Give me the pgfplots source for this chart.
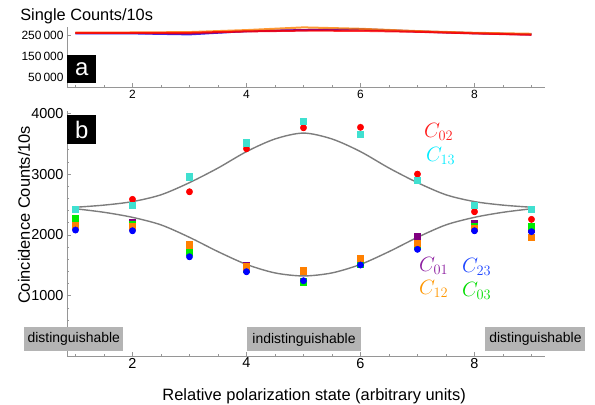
\documentclass[border=0pt]{standalone}
\usepackage{fontspec}
\setmainfont{Liberation Sans}
\usepackage{pgfplots}
\pgfplotsset{compat=1.18}
\definecolor{axgray}{RGB}{150,150,150}
\definecolor{turq}{RGB}{64,224,208}
\definecolor{morange}{RGB}{255,128,0}
\definecolor{mpurple}{RGB}{128,0,128}
\definecolor{mgreen}{RGB}{0,235,0}
\definecolor{mblue}{RGB}{0,0,255}
\definecolor{mred}{RGB}{255,0,0}
\definecolor{fitgray}{RGB}{125,125,125}
\definecolor{boxgray}{RGB}{180,180,180}
\definecolor{lcyan}{RGB}{0,235,255}
\definecolor{lpurple}{RGB}{140,30,160}
\definecolor{lblue}{RGB}{30,70,255}
\definecolor{lorange}{RGB}{255,150,0}
\definecolor{lgreen}{RGB}{0,220,0}
\definecolor{lred}{RGB}{255,30,30}

\pgfplotsset{
  myax/.style={
    scale only axis, width=478bp,
    xmin=0.851, xmax=9.237,
    axis x line*=bottom, axis y line*=left,
    axis line style={axgray, line width=0.8bp, -},
    every tick/.style={axgray, line width=0.6bp},
    tick align=inside,
    major tick length=4bp, minor tick length=2.5bp,
    xtick={2,4,6,8},
    minor xtick={1,1.5,...,9},
    /pgf/number format/assume math mode=true,
    clip=false,
  },
  pts/.style={only marks, mark=#1, mark size=3.2bp,
    error bars/.cd, y dir=both, y fixed=40,
    error bar style={line width=0.6bp},
    error mark options={rotate=90, mark size=1.8bp, line width=0.6bp}},
}

\begin{document}
\begin{tikzpicture}
\path[use as bounding box] (-67bp,-48.5bp) rectangle (528bp,356.5bp);

% ---------- panel b ----------
\begin{axis}[myax,
  at={(0,0)}, anchor=south west,
  height=245bp,
  ymin=0, ymax=4030,
  ytick={1000,2000,3000,4000},
  yticklabels={1000,2000,3000,4000},
  minor ytick={200,400,...,4000},
  ticklabel style={font=\fontsize{14.5}{16}\selectfont},
  xticklabel style={yshift=2bp},
  ylabel={Coincidence Counts/10s},
  ylabel style={at={(axis description cs:-0.09,0.578)}, anchor=center, font=\fontsize{16.5}{18}\selectfont},
  xlabel={Relative polarization state (arbitrary units)},
  xlabel style={at={(axis description cs:0.517,-0.1776)}, anchor=base, font=\fontsize{16.5}{18}\selectfont},
]
% fit curves
\addplot[fitgray, line width=1.4bp, smooth] coordinates {
 (1,2455) (1.5,2490) (2,2548) (2.5,2660) (3,2860) (3.5,3100) (4,3370) (4.5,3578) (5,3675)
 (5.5,3578) (6,3370) (6.5,3100) (7,2860) (7.5,2660) (8,2548) (8.5,2490) (9,2455)};
\addplot[fitgray, line width=1.4bp, smooth] coordinates {
 (1,2430) (1.5,2372) (2,2289) (2.5,2165) (3,1960) (3.5,1725) (4,1515) (4.5,1375) (5,1325)
 (5.5,1375) (6,1515) (6.5,1725) (7,1960) (7.5,2165) (8,2289) (8.5,2372) (9,2430)};
% C01 purple
\addplot[color=mpurple, mark options={fill=mpurple}, pts=square*] coordinates {
 (1,2200) (2,2207) (3,1825) (4,1505) (5,1410) (6,1590) (7,1970) (8,2190) (9,2100)};
% C02 red
\addplot[color=mred, mark options={fill=mred}, pts=*] coordinates {
 (1,2190) (2,2585) (3,2710) (4,3418) (5,3763) (6,3770) (7,3000) (8,2382) (9,2256)};
% C03 green
\addplot[color=mgreen, mark options={fill=mgreen}, pts=square*] coordinates {
 (1,2273) (2,2174) (3,1724) (4,1440) (5,1230) (6,1520) (7,1820) (8,2135) (9,2146)};
% C12 orange
\addplot[color=morange, mark options={fill=morange}, pts=square*] coordinates {
 (1,2151) (2,2135) (3,1838) (4,1477) (5,1411) (6,1615) (7,1861) (8,2110) (9,1960)};
% C13 turquoise
\addplot[color=turq, mark options={fill=turq}, pts=square*] coordinates {
 (1,2421) (2,2491) (3,2957) (4,3516) (5,3873) (6,3655) (7,2903) (8,2491) (9,2425)};
% C23 blue
\addplot[color=mblue, mark options={fill=mblue}, pts=*] coordinates {
 (1,2080) (2,2069) (3,1641) (4,1395) (5,1246) (6,1505) (7,1763) (8,2069) (9,2053)};

% labels
\node[anchor=west, inner sep=0, text=lred, font=\fontsize{21}{24}\selectfont] at (axis cs:7.114,3692) {$C_{02}$};
\node[anchor=west, inner sep=0, text=lcyan, font=\fontsize{21}{24}\selectfont] at (axis cs:7.149,3297) {$C_{13}$};
\node[anchor=west, inner sep=0, text=lpurple, font=\fontsize{21}{24}\selectfont] at (axis cs:7.026,1488) {$C_{01}$};
\node[anchor=west, inner sep=0, text=lblue, font=\fontsize{21}{24}\selectfont] at (axis cs:7.781,1471) {$C_{23}$};
\node[anchor=west, inner sep=0, text=lorange, font=\fontsize{21}{24}\selectfont] at (axis cs:7.026,1109) {$C_{12}$};
\node[anchor=west, inner sep=0, text=lgreen, font=\fontsize{21}{24}\selectfont] at (axis cs:7.781,1076) {$C_{03}$};

\node[fill=boxgray, minimum width=99bp, minimum height=24bp, inner sep=0, font=\fontsize{14}{16}\selectfont] at (axis cs:0.97,296) {distinguishable};
\node[fill=boxgray, minimum width=114bp, minimum height=24bp, inner sep=0, font=\fontsize{14}{16}\selectfont] at (axis cs:5.01,280) {indistinguishable};
\node[fill=boxgray, minimum width=100bp, minimum height=24bp, inner sep=0, font=\fontsize{14}{16}\selectfont] at (axis cs:9.07,296) {distinguishable};

\node[fill=black, text=white, anchor=north west, minimum width=29bp, minimum height=29bp, inner sep=0, font=\fontsize{24}{26}\selectfont] at (axis cs:0.851,3973) {b};
\end{axis}

% ---------- panel a ----------
\begin{axis}[myax,
  at={(0,269.2bp)}, anchor=south west,
  height=60.3bp,
  ymin=0, ymax=292700,
  ytick={50000,150000,250000},
  yticklabels={50\,000,150\,000,250\,000},
  ticklabel style={font=\fontsize{12}{14}\selectfont},
  xticklabel style={yshift=1bp},
  scaled y ticks=false,
]
\addplot[mblue, line width=2bp, opacity=0.8] coordinates {
 (1,261600) (2,261600) (3,256800) (4,272800) (5,277700) (6,282500) (7,271300) (8,263100) (9,256800)};
\addplot[mpurple, line width=2bp, opacity=0.8] coordinates {
 (1,263000) (2,263000) (3,260000) (4,272000) (5,278000) (6,280000) (7,270000) (8,262000) (9,256000)};
\addplot[morange, line width=2bp, opacity=0.8] coordinates {
 (1,265500) (2,266000) (3,268000) (4,277700) (5,290800) (6,284000) (7,272800) (8,264500) (9,259700)};
\addplot[mred, line width=2bp, opacity=0.8] coordinates {
 (1,264500) (2,264500) (3,264500) (4,271300) (5,275000) (6,274000) (7,269400) (8,261600) (9,254900)};

\node[fill=black, text=white, anchor=north west, minimum width=29bp, minimum height=28bp, inner sep=0, font=\fontsize{24}{26}\selectfont] at (rel axis cs:0,0.536) {a};
\node[anchor=base west, inner sep=0, font=\fontsize{16.4}{18}\selectfont] at (rel axis cs:-0.098,1.104) {Single Counts/10s};
\end{axis}
\end{tikzpicture}
\end{document}
